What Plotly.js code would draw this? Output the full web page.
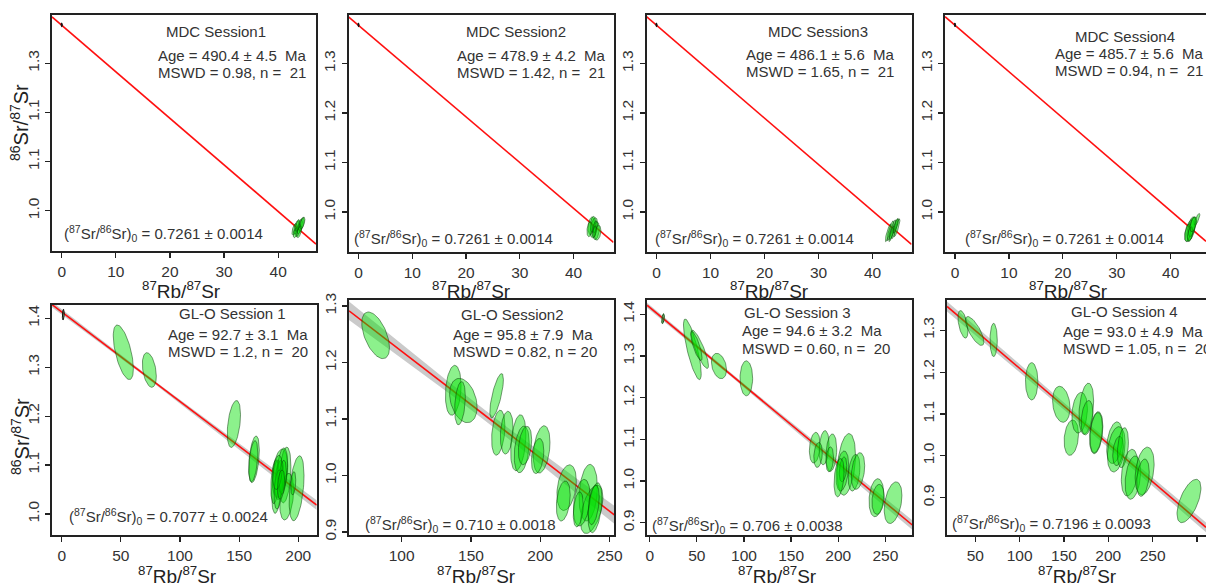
<!DOCTYPE html>
<html>
<head>
<meta charset="utf-8">
<script src="https://cdn.plot.ly/plotly-3.0.1.min.js"></script>
<style>
  html, body { margin: 0; padding: 0; background: #ffffff; }
  #chart { width: 1206px; height: 586px; }
</style>
</head>
<body>
<div id="chart"></div>
<script>
// Rb-Sr inverse isochrons (86Sr/87Sr vs 87Rb/87Sr) for the MDC and GL-O sessions.

// ---- session results ----
const sessionNames = ['MDC Session1', 'MDC Session2', 'MDC Session3', 'MDC Session4',
                      'GL-O Session 1', 'GL-O Session2', 'GL-O Session 3', 'GL-O Session 4'];
const ages = ['490.4', '478.9', '486.1', '485.7', '92.7', '95.8', '94.6', '93.0'];
const ageErrs = ['4.5', '4.2', '5.6', '5.6', '3.1', '7.9', '3.2', '4.9'];
const mswds = ['0.98', '1.42', '1.65', '0.94', '1.2', '0.82', '0.60', '1.05'];
const nPoints = [21, 21, 21, 21, 20, 20, 20, 20];
const initialRatios = ['0.7261', '0.7261', '0.7261', '0.7261', '0.7077', '0.710', '0.706', '0.7196'];
const initialRatioErrs = ['0.0014', '0.0014', '0.0014', '0.0014', '0.0024', '0.0018', '0.0038', '0.0093'];

// ---- analyses: [87Rb/87Sr, s(x), 86Sr/87Sr, s(y), rho] ----
const mdc1 = [
  [43.0, 0.45, 0.962, 0.012, 0.6], [43.4, 0.5, 0.966, 0.014, 0.6], [43.7, 0.5, 0.960, 0.013, 0.6],
  [44.0, 0.5, 0.968, 0.015, 0.6], [44.3, 0.5, 0.972, 0.014, 0.6], [43.2, 0.4, 0.955, 0.010, 0.5],
  [43.9, 0.45, 0.957, 0.012, 0.6], [44.5, 0.45, 0.975, 0.012, 0.6], [43.6, 0.4, 0.970, 0.012, 0.6]
];
const mdc2 = [
  [43.3, 0.6, 0.972, 0.018, 0.3], [43.8, 0.7, 0.968, 0.020, 0.4], [44.2, 0.6, 0.962, 0.018, 0.3],
  [43.6, 0.5, 0.975, 0.016, 0.3], [44.5, 0.6, 0.958, 0.015, 0.3], [43.0, 0.5, 0.965, 0.015, 0.3],
  [44.0, 0.4, 0.970, 0.012, 0.5], [43.9, 0.35, 0.960, 0.012, 0.5]
];
const mdc3 = [
  [42.9, 0.55, 0.958, 0.018, 0.85], [43.3, 0.6, 0.962, 0.020, 0.85], [43.7, 0.6, 0.964, 0.020, 0.85],
  [44.1, 0.6, 0.966, 0.020, 0.85], [44.5, 0.55, 0.968, 0.018, 0.85], [43.5, 0.5, 0.956, 0.016, 0.85],
  [44.3, 0.5, 0.972, 0.015, 0.85]
];
const mdc4 = [
  [43.5, 0.9, 0.962, 0.022, 0.5], [43.8, 0.8, 0.966, 0.024, 0.5], [43.2, 0.6, 0.958, 0.018, 0.5],
  [44.0, 0.7, 0.970, 0.020, 0.6], [44.9, 0.5, 0.985, 0.012, 0.8], [43.6, 0.5, 0.955, 0.015, 0.5],
  [44.2, 0.6, 0.975, 0.015, 0.5]
];
const glo1 = [
  [52.1, 8.5, 1.3305, 0.0559, -0.6], [74.1, 5.9, 1.2943, 0.0354, -0.35], [145.6, 5.6, 1.184, 0.048, 0.4],
  [162.6, 4.5, 1.1118, 0.0477, 0.4], [162.0, 3.8, 1.108, 0.042, 0.4], [184.5, 6.6, 1.0832, 0.0494, 0.3],
  [188.8, 5.0, 1.0797, 0.057, 0.3], [190.2, 5.9, 1.0354, 0.0477, 0.3], [181.7, 4.2, 1.0558, 0.0545, 0.3],
  [184.0, 4.0, 1.0695, 0.040, 0.3], [180.3, 3.5, 1.066, 0.045, 0.3], [198.6, 6.3, 1.0525, 0.0664, 0.4],
  [195.8, 2.1, 1.0627, 0.024, 0.3], [186.5, 4.5, 1.090, 0.045, 0.3], [183.0, 3.5, 1.050, 0.040, 0.3],
  [187.0, 3.0, 1.075, 0.035, 0.3], [182.5, 4.0, 1.085, 0.035, 0.3], [185.5, 3.0, 1.060, 0.030, 0.3]
];
const glo2 = [
  [81.2, 10.0, 1.2481, 0.0413, -0.53], [137.2, 5.65, 1.1508, 0.0442, 0.2], [144.5, 9.9, 1.1327, 0.0392, -0.3],
  [142.1, 3.85, 1.128, 0.0383, 0.3], [168.5, 4.9, 1.1412, 0.0392, 0.73], [169.7, 4.8, 1.0758, 0.0398, 0.3],
  [175.8, 4.6, 1.0758, 0.0378, 0.2], [184.1, 5.5, 1.058, 0.0496, 0.3], [186.6, 5.4, 1.0462, 0.0413, 0.3],
  [189.0, 4.8, 1.0531, 0.034, 0.3], [201.0, 6.0, 1.0462, 0.0419, 0.3], [198.1, 4.45, 1.0345, 0.031, 0.3],
  [219.0, 7.0, 0.9785, 0.0404, 0.3], [216.6, 5.0, 0.9549, 0.0354, 0.3], [234.6, 6.6, 0.9696, 0.0501, 0.2],
  [237.1, 8.1, 0.9401, 0.0428, 0.5], [229.9, 6.0, 0.9519, 0.0413, 0.3], [227.4, 3.6, 0.9401, 0.031, 0.3],
  [239.5, 5.0, 0.943, 0.0442, 0.4], [238.5, 4.0, 0.948, 0.035, 0.4]
];
const glo3 = [
  [45.2, 9.4, 1.316, 0.0728, -0.8], [53.1, 9.2, 1.316, 0.046, -0.85], [49.5, 6.0, 1.324, 0.035, -0.8],
  [73.5, 8.0, 1.276, 0.0304, -0.3], [102.5, 6.7, 1.2464, 0.042, 0.0], [175.1, 5.7, 1.080, 0.0368, 0.2],
  [185.0, 5.3, 1.080, 0.041, 0.2], [192.7, 5.7, 1.068, 0.045, 0.2], [191.0, 4.0, 1.052, 0.030, 0.2],
  [208.6, 9.7, 1.040, 0.074, 0.3], [204.4, 6.7, 1.024, 0.048, 0.3], [205.1, 4.0, 1.028, 0.030, 0.3],
  [216.8, 6.2, 1.020, 0.044, 0.3], [221.0, 7.1, 1.024, 0.044, 0.3], [240.5, 7.8, 0.960, 0.0456, 0.2],
  [242.3, 6.5, 0.956, 0.036, 0.2], [258.2, 9.4, 0.948, 0.050, 0.35], [200.9, 5.3, 1.008, 0.046, 0.3],
  [178.6, 4.5, 1.0625, 0.030, 0.2]
];
const glo4 = [
  [36.1, 5.6, 1.3143, 0.033, -0.5], [49.3, 10.3, 1.2983, 0.0346, -0.75], [70.7, 4.1, 1.2768, 0.0398, 0.0],
  [113.6, 7.0, 1.1781, 0.0446, 0.0], [147.0, 9.8, 1.1232, 0.043, -0.2], [158.3, 8.1, 1.0434, 0.0422, 0.2],
  [167.7, 8.8, 1.1031, 0.0486, 0.2], [175.2, 8.3, 1.1127, 0.061, 0.3], [176.0, 6.6, 1.0912, 0.041, 0.3],
  [186.4, 7.5, 1.0553, 0.0502, 0.3], [186.4, 7.0, 1.0553, 0.048, 0.3], [207.2, 9.0, 1.0314, 0.0498, 0.3],
  [209.0, 10.0, 1.0156, 0.0542, 0.3], [211.0, 6.0, 1.0116, 0.035, 0.3], [216.5, 6.2, 1.0195, 0.0478, 0.3],
  [224.1, 9.4, 0.9598, 0.0558, 0.3], [227.8, 8.8, 0.948, 0.0518, 0.3], [241.0, 10.7, 0.9638, 0.057, 0.3],
  [239.1, 7.1, 0.9478, 0.0446, 0.3], [291.0, 13.5, 0.8921, 0.0518, 0.6]
];
// initial-ratio anchor points
const mdcAnchor = [0.0, 0.12, 1.378, 0.004, 0.0];
const glo1Anchor = [1.35, 0.8, 1.4075, 0.011, 0.3];
const glo3Anchor = [14.1, 1.4, 1.3895, 0.012, 0.5];

// ---- tick values and labels ----
const mdcTicksX = [0, 10, 20, 30, 40];
const mdcTicksY = [1.0, 1.1, 1.2, 1.3];
const mdc1TickTextY = ['1.0', '1.1', '1.1', '1.3'];
const glo1TicksX = [0, 50, 100, 150, 200];
const glo1TicksY = [1.0, 1.1, 1.2, 1.3, 1.4];
const glo2TicksX = [100, 150, 200, 250];
const glo2TicksY = [0.9, 1.0, 1.1, 1.2, 1.3];
const glo3TicksX = [0, 50, 100, 150, 200, 250];
const glo3TicksY = [0.9, 1.0, 1.1, 1.2, 1.3, 1.4];
const glo4TicksX = [50, 100, 150, 200, 250, 300];
const glo4TicksY = [0.9, 1.0, 1.1, 1.2, 1.3];

const LAMBDA_RB87 = 1.3972e-11; // decay constant, 1/yr

// ---- page geometry (pixels) ----
const W = 1206, H = 586;
const TEXT_FONT = 'Liberation Sans, Arial, sans-serif';
const TICK_FONT = 'Liberation Sans Narrow, Arial Narrow, Liberation Sans, Arial, sans-serif';

const panels = [
  { pts: mdc1, anchor: mdcAnchor, box: [52, 316, 15, 251], xr: [-1.8, 47.0], yr: [0.918, 1.398],
    xt: mdcTicksX, yt: mdcTicksY, ytt: mdc1TickTextY, band: null, nGap: '  ', maGap: '  ',
    title: [216, 31.7], stats: [155.7, 56, 73], r0: [61.7, 233.3], xtitle: [181, 290], open: false },
  { pts: mdc2, anchor: mdcAnchor, box: [348.5, 613.5, 15, 252], xr: [-1.86, 47.44], yr: [0.919, 1.398],
    xt: mdcTicksX, yt: mdcTicksY, band: null, nGap: '  ', maGap: '  ',
    title: [515.8, 31.7], stats: [455, 56, 73], r0: [351.7, 238.3], xtitle: [471, 290], open: false },
  { pts: mdc3, anchor: mdcAnchor, box: [646.5, 911.5, 15, 252], xr: [-1.85, 47.2], yr: [0.919, 1.398],
    xt: mdcTicksX, yt: mdcTicksY, band: null, nGap: '  ', maGap: '  ',
    title: [818.3, 31.7], stats: [744, 54, 71], r0: [653.3, 238.3], xtitle: [769, 290], open: false },
  { pts: mdc4, anchor: mdcAnchor, box: [945, 1206, 15, 252], xr: [-1.85, 46.55], yr: [0.919, 1.398],
    xt: mdcTicksX, yt: mdcTicksY, band: null, nGap: '  ', maGap: '  ',
    title: [1125, 36.7], stats: [1053.3, 53.3, 70.5], r0: [963.3, 238.3], xtitle: [1068, 290], open: true },
  { pts: glo1, anchor: glo1Anchor, anchorColor: '#111', box: [51.7, 316.7, 305, 535], xr: [-8.45, 215.6], yr: [0.957, 1.4272],
    xt: glo1TicksX, yt: glo1TicksY, band: [0.003, 70, 6.5e-5], nGap: '  ', maGap: '  ',
    title: [232.2, 313.3], stats: [166, 334.5, 351.7], r0: [66.7, 516.7], xtitle: [177, 575], open: false },
  { pts: glo2, anchor: null, box: [349, 614.3, 300, 535.3], xr: [62.0, 253.4], yr: [0.8942, 1.3106],
    xt: glo2TicksX, yt: glo2TicksY, band: [0.009, 160, 1.4e-4], nGap: ' ', maGap: '  ',
    title: [512, 314.3], stats: [451, 334, 351], r0: [363.3, 524.3], xtitle: [476, 575], open: false },
  { pts: glo3, anchor: glo3Anchor, anchorColor: '#1a5a1a', box: [647, 912.3, 300, 535.3], xr: [-2.9, 278.6], yr: [0.8698, 1.4343],
    xt: glo3TicksX, yt: glo3TicksY, band: [0.004, 80, 5.5e-5], nGap: '  ', maGap: '  ',
    title: [797, 312], stats: [739.7, 330.5, 348], r0: [649.7, 525.3], xtitle: [777, 575], open: false },
  { pts: glo4, anchor: null, box: [947, 1206, 300, 535.3], xr: [18.1, 310.2], yr: [0.8101, 1.3724],
    xt: glo4TicksX, yt: glo4TicksY, band: [0.008, 170, 6e-5], nGap: '  ', maGap: '  ',
    title: [1124.7, 311], stats: [1061.3, 331, 348], r0: [949.7, 523.7], xtitle: [1077, 575], open: true }
];

function ellipsePath(p, n) {
  const [x0, sx, y0, sy, rho] = p;
  const k = Math.sqrt(1 - rho * rho);
  const xs = [], ys = [];
  for (let i = 0; i <= n; i++) {
    const t = 2 * Math.PI * i / n;
    xs.push(x0 + sx * Math.cos(t));
    ys.push(y0 + sy * (rho * Math.cos(t) + k * Math.sin(t)));
  }
  return { xs, ys };
}

const px2x = px => px / W;
const px2y = py => 1 - py / H;

const traces = [];
const layout = {
  width: W, height: H,
  margin: { l: 0, r: 0, t: 0, b: 0 },
  paper_bgcolor: '#ffffff', plot_bgcolor: '#ffffff',
  showlegend: false, hovermode: false,
  annotations: []
};

panels.forEach((pn, i) => {
  const sfx = i === 0 ? '' : String(i + 1);
  const xa = 'x' + sfx, ya = 'y' + sfx;

  // isochron from the stated age and initial ratio
  const r0 = parseFloat(initialRatios[i]);
  const t = parseFloat(ages[i]) * 1e6;
  const intercept = 1 / r0;
  const slope = -(Math.exp(LAMBDA_RB87 * t) - 1) / r0;
  const lineAt = x => intercept + slope * x;

  // confidence envelope
  if (pn.band) {
    const [s0, xm, s1] = pn.band;
    const xs = [], up = [], lo = [];
    const nS = 60;
    for (let k = 0; k <= nS; k++) {
      const x = pn.xr[0] + (pn.xr[1] - pn.xr[0]) * k / nS;
      const hw = Math.sqrt(s0 * s0 + Math.pow(s1 * (x - xm), 2));
      xs.push(x); up.push(lineAt(x) + hw); lo.push(lineAt(x) - hw);
    }
    traces.push({
      type: 'scatter', mode: 'lines', xaxis: xa, yaxis: ya,
      x: xs.concat(xs.slice().reverse()), y: up.concat(lo.slice().reverse()),
      fill: 'toself', fillcolor: 'rgba(150,150,150,0.5)', line: { width: 0 }
    });
  }

  traces.push({
    type: 'scatter', mode: 'lines', xaxis: xa, yaxis: ya,
    x: pn.xr, y: pn.xr.map(lineAt),
    line: { color: '#ff1010', width: 1.6 }
  });

  pn.pts.forEach(p => {
    const e = ellipsePath(p, 64);
    traces.push({
      type: 'scatter', mode: 'lines', xaxis: xa, yaxis: ya,
      x: e.xs, y: e.ys, fill: 'toself',
      fillcolor: 'rgba(0,225,0,0.45)',
      line: { color: 'rgba(10,60,10,0.85)', width: 0.6 }
    });
  });

  if (pn.anchor) {
    const e = ellipsePath(pn.anchor, 40);
    traces.push({
      type: 'scatter', mode: 'lines', xaxis: xa, yaxis: ya,
      x: e.xs, y: e.ys, fill: 'toself',
      fillcolor: pn.anchorColor ? 'rgba(40,120,40,0.6)' : '#111',
      line: { color: pn.anchorColor || '#111', width: 1 }
    });
  }

  const [l, r, top, bot] = pn.box;
  const axCommon = {
    showline: true, linecolor: '#222', linewidth: 2,
    ticks: 'outside', ticklen: 5, tickwidth: 1.2, tickcolor: '#222',
    showgrid: false, zeroline: false, fixedrange: true,
    tickfont: { family: TICK_FONT, size: 15.5, color: '#333' }
  };
  layout['xaxis' + sfx] = Object.assign({}, axCommon, {
    domain: [px2x(l), px2x(r)], range: pn.xr, anchor: ya, mirror: true,
    tickmode: 'array', tickvals: pn.xt, ticktext: pn.xt.map(String)
  });
  layout['yaxis' + sfx] = Object.assign({}, axCommon, {
    domain: [px2y(bot), px2y(top)], range: pn.yr, anchor: xa, mirror: !pn.open,
    tickmode: 'array', tickvals: pn.yt,
    ticktext: pn.ytt || pn.yt.map(v => v.toFixed(1)),
    tickangle: -90
  });

  const txt = { family: TEXT_FONT, size: 15, color: '#333' };
  const ann = (x, y, text, xanchor, font) => layout.annotations.push({
    xref: 'paper', yref: 'paper', x: px2x(x), y: px2y(y), text: text,
    xanchor: xanchor, yanchor: 'middle', showarrow: false, font: font || txt
  });
  ann(pn.title[0], pn.title[1], sessionNames[i], 'center');
  ann(pn.stats[0], pn.stats[1], 'Age = ' + ages[i] + ' \u00b1 ' + ageErrs[i] + pn.maGap + 'Ma', 'left');
  ann(pn.stats[0], pn.stats[2], 'MSWD = ' + mswds[i] + ', n =' + pn.nGap + nPoints[i], 'left');
  ann(pn.r0[0], pn.r0[1], '(<sup>87</sup>Sr/<sup>86</sup>Sr)<sub>0</sub> = ' + initialRatios[i] +
      ' \u00b1 ' + initialRatioErrs[i], 'left');
  ann(pn.xtitle[0], pn.xtitle[1], '<sup>87</sup>Rb/<sup>87</sup>Sr', 'center',
      { family: TEXT_FONT, size: 19, color: '#222' });
});

// y-axis titles on the left column
[[19, 123], [20, 437]].forEach(pos => {
  layout.annotations.push({
    xref: 'paper', yref: 'paper', x: px2x(pos[0]), y: px2y(pos[1]),
    text: '<sup>86</sup>Sr/<sup>87</sup>Sr', textangle: -90,
    xanchor: 'center', yanchor: 'middle', showarrow: false,
    font: { family: TEXT_FONT, size: 20, color: '#222' }
  });
});

Plotly.newPlot('chart', traces, layout, { staticPlot: true, displayModeBar: false });
</script>
</body>
</html>
